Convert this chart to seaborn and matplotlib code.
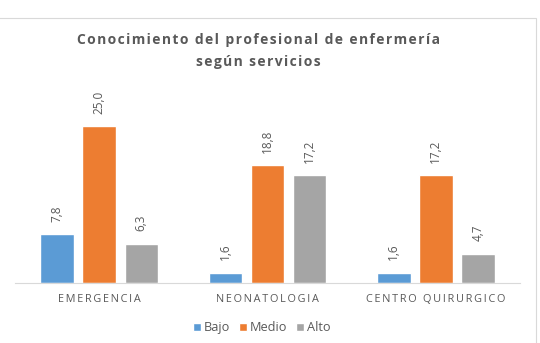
import pandas as pd
import matplotlib
matplotlib.use('agg')
import seaborn as sns
import matplotlib.pyplot as plt
from matplotlib.patches import Rectangle

SERVICIOS = ["EMERGENCIA", "NEONATOLOGIA", "CENTRO QUIRURGICO"]
NIVELES = ["Bajo", "Medio", "Alto"]
BAJO = [7.8, 1.6, 1.6]
MEDIO = [25.0, 18.8, 17.2]
ALTO = [6.3, 17.2, 4.7]
COLORES = ["#5B9BD5", "#ED7D31", "#A5A5A5"]

TEXTO = "#595959"
HS = "\u200a"  # hair space, to imitate letter spacing


def espaciar(s, sep=HS):
	return sep.join(list(s))


def main(output):
	df = pd.DataFrame({"servicio": SERVICIOS * 3,
					   "nivel": [n for n in NIVELES for _ in SERVICIOS],
					   "valor": BAJO + MEDIO + ALTO})

	sns.set_style("white")
	plt.rcParams['font.family'] = ['Open Sans', 'DejaVu Sans']

	fig = plt.figure(figsize=(5.4, 3.43), dpi=100)
	ax = fig.add_axes([0.028, 0.175, 0.935, 0.548])

	sns.barplot(x="servicio", y="valor", hue="nivel", data=df, ax=ax,
				order=SERVICIOS, hue_order=NIVELES, palette=COLORES,
				width=0.75, gap=0.2, saturation=1)

	for cont in ax.containers:
		etiquetas = [("%.1f" % b.get_height()).replace(".", ",") for b in cont]
		ax.bar_label(cont, labels=etiquetas, rotation=90, padding=9,
					 fontsize=8.5, color=TEXTO)

	ax.set_ylim(0, 30)
	ax.set_xlim(-0.5, 2.5)
	ax.set(xlabel='', ylabel='', yticks=[])
	ax.set_xticks(range(3))
	ax.set_xticklabels([espaciar(s, "\u2009") for s in SERVICIOS], fontsize=7.8, color=TEXTO)
	ax.tick_params(axis='x', length=0, pad=8)
	for lado in ["top", "left", "right"]:
		ax.spines[lado].set_visible(False)
	ax.spines["bottom"].set_color("#D9D9D9")

	fig.text(0.478, 0.882, espaciar("Conocimiento del profesional de enfermería"),
			 ha="center", va="center", fontsize=10, fontweight="bold", color=TEXTO)
	fig.text(0.478, 0.82, espaciar("según servicios"),
			 ha="center", va="center", fontsize=10, fontweight="bold", color=TEXTO)

	ax.legend(loc="center", bbox_to_anchor=(0.485, 0.045), bbox_transform=fig.transFigure,
			  ncol=3, frameon=False, fontsize=9.2,
			  handlelength=0.6, handleheight=0.6, handletextpad=0.25, columnspacing=0.7,
			  labelcolor=TEXTO)

	fig.patches.append(Rectangle((-0.05, -0.05), 0.0505 + 536 / 540, 0.05 + (343 - 18) / 343,
								 transform=fig.transFigure, fill=False,
								 edgecolor="#D9D9D9", linewidth=0.8))

	fig.savefig(output, dpi=100)


if __name__ == "__main__":
	main("out.png")
